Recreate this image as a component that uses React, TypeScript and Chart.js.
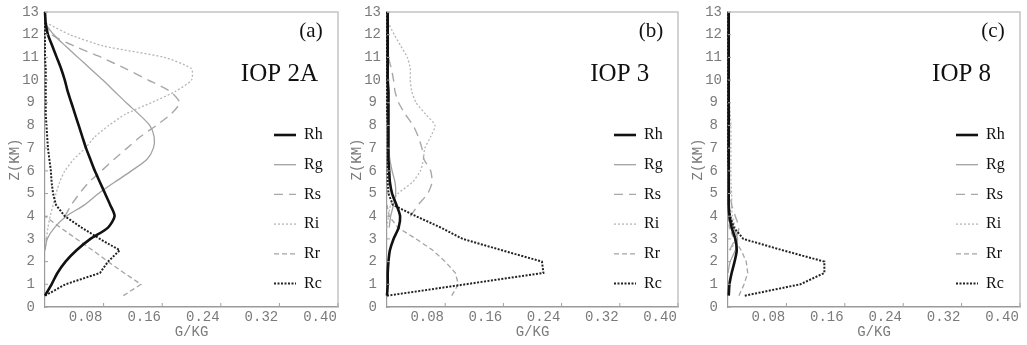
import React, { useEffect, useRef } from 'react';
import { Chart, registerables } from 'chart.js';
Chart.register(...registerables);

// Heights (km)
const Z = [0.5, 1, 1.5, 2, 2.5, 3, 3.5, 4, 4.5, 5, 5.5, 6, 6.5, 7, 7.5, 8, 8.5, 9, 9.5, 10, 10.5, 11, 11.5, 12, 12.5, 13];
const X_TICKS = [0, 0.08, 0.16, 0.24, 0.32, 0.4];
const Y_TICKS = [0, 1, 2, 3, 4, 5, 6, 7, 8, 9, 10, 11, 12, 13];
const SERIES_NAMES = ['Rh', 'Rg', 'Rs', 'Ri', 'Rr', 'Rc'];
const PANEL_LABELS = ['(a)', '(b)', '(c)'];
const PANEL_TITLES = ['IOP 2A', 'IOP 3', 'IOP 8'];
const X_TITLE = 'G/KG';
const Y_TITLE = 'Z(KM)';

// Panel (a) IOP 2A
const rhA = [0, 0.009, 0.017, 0.028, 0.043, 0.062, 0.086, 0.095, 0.089, 0.082, 0.075, 0.068, 0.062, 0.056, 0.051, 0.046, 0.041, 0.036, 0.031, 0.027, 0.022, 0.016, 0.010, 0.004, 0.001, 0];
const rgA = [null, null, null, null, 0, 0.003, 0.013, 0.029, 0.054, 0.073, 0.095, 0.118, 0.139, 0.148, 0.149, 0.143, 0.128, 0.111, 0.095, 0.079, 0.062, 0.045, 0.028, 0.012, 0, null];
const rsA = [null, null, null, null, null, null, null, 0.027, 0.036, 0.047, 0.060, 0.077, 0.094, 0.112, 0.130, 0.152, 0.172, 0.184, 0.171, 0.141, 0.110, 0.077, 0.040, 0.009, 0, null];
const riA = [null, null, null, null, 0, 0.002, 0.004, 0.007, 0.011, 0.015, 0.020, 0.027, 0.039, 0.055, 0.068, 0.087, 0.110, 0.145, 0.178, 0.200, 0.200, 0.163, 0.080, 0.034, 0.003, null];
const rrA = [0.107, 0.131, 0.108, 0.086, 0.065, 0.043, 0.021, 0, null, null, null, null, null, null, null, null, null, null, null, null, null, null, null, null, null, null];
const rcA = [0, 0.028, 0.075, 0.086, 0.102, 0.075, 0.050, 0.027, 0.015, 0.011, 0.009, 0.008, 0.006, 0.004, 0.003, 0.002, 0.001, 0.001, 0.001, 0.001, 0.001, 0, 0, 0, 0, 0];

// Panel (b) IOP 3
const rhB = [0, 0.001, 0.001, 0.002, 0.004, 0.009, 0.016, 0.018, 0.013, 0.007, 0.004, 0.003, 0.002, 0.002, 0.002, 0.002, 0.002, 0.002, 0.002, 0.001, 0.001, 0.001, 0.001, 0.001, 0.001, 0.001];
const rgB = [null, null, null, null, null, null, 0.003, 0.005, 0.009, 0.012, 0.011, 0.007, 0.004, 0.002, 0.001, 0.001, 0.001, 0.001, 0, 0, 0, 0, 0, 0, 0, null];
const rsB = [null, null, null, null, null, null, null, 0.032, 0.043, 0.056, 0.062, 0.060, 0.051, 0.048, 0.043, 0.036, 0.025, 0.016, 0.011, 0.009, 0.006, 0.002, 0, null, null, null];
const riB = [null, null, null, null, null, null, 0, 0.002, 0.005, 0.015, 0.035, 0.046, 0.050, 0.052, 0.060, 0.066, 0.053, 0.040, 0.034, 0.032, 0.032, 0.028, 0.019, 0.010, 0.002, null];
const rrB = [0.089, 0.098, 0.094, 0.080, 0.063, 0.040, 0.015, 0.003, 0, null, null, null, null, null, null, null, null, null, null, null, null, null, null, null, null, null];
const rcB = [0, 0.108, 0.215, 0.213, 0.158, 0.104, 0.074, 0.040, 0.008, 0.002, 0.001, 0.001, 0.001, 0.001, 0.001, 0.001, 0, 0, 0, 0, 0, 0, 0, 0, 0, 0];

// Panel (c) IOP 8
const rhC = [0.001, 0.002, 0.005, 0.009, 0.012, 0.010, 0.005, 0.002, 0.001, 0.001, 0.001, 0.001, 0.001, 0.001, 0.001, 0.001, 0.001, 0.001, 0.001, 0.001, 0.001, 0.001, 0.001, 0.001, 0.001, 0.001];
const rgC = [null, null, 0, 0.003, 0.010, 0.013, 0.008, 0.003, 0.001, 0, null, null, null, null, null, null, null, null, null, null, null, null, null, null, null, null];
const rsC = [null, null, null, null, 0.002, 0.010, 0.015, 0.010, 0.005, 0.003, 0.001, 0, null, null, null, null, null, null, null, null, null, null, null, null, null, null];
const riC = [null, null, null, null, 0.003, 0.012, 0.010, 0.006, 0.005, 0.005, 0.004, 0.004, 0.004, 0.004, 0.004, 0.004, 0.003, 0.002, 0, null, null, null, null, null, null, null];
const rrC = [0.015, 0.022, 0.027, 0.025, 0.018, 0.008, 0.002, 0, null, null, null, null, null, null, null, null, null, null, null, null, null, null, null, null, null, null];
const rcC = [0.023, 0.099, 0.132, 0.132, 0.075, 0.021, 0.008, 0.003, 0.001, 0.001, 0.001, 0.001, 0, 0, 0, 0, 0, 0, 0, 0, 0, 0, 0, 0, 0, 0];

const PANEL_SERIES = [
  { Rh: rhA, Rg: rgA, Rs: rsA, Ri: riA, Rr: rrA, Rc: rcA },
  { Rh: rhB, Rg: rgB, Rs: rsB, Ri: riB, Rr: rrB, Rc: rcB },
  { Rh: rhC, Rg: rgC, Rs: rsC, Ri: riC, Rr: rrC, Rc: rcC },
];

const STYLES: Record<string, { color: string; width: number; dash: number[]; tension: number }> = {
  Rh: { color: '#111111', width: 2.6, dash: [], tension: 0.25 },
  Rg: { color: '#a2a2a2', width: 1.3, dash: [], tension: 0.25 },
  Rs: { color: '#a8a8a8', width: 1.4, dash: [9, 6], tension: 0.2 },
  Ri: { color: '#b6b6b6', width: 1.3, dash: [2, 2], tension: 0.2 },
  Rr: { color: '#a4a4a4', width: 1.3, dash: [5, 3], tension: 0 },
  Rc: { color: '#222222', width: 2.0, dash: [2, 1.5], tension: 0 },
};
const DRAW_ORDER = ['Rh', 'Rc', 'Rg', 'Rs', 'Ri', 'Rr'];

const TICK_FONT = { family: '"Liberation Mono", monospace', size: 14 };
const TICK_COLOR = '#7a7a7a';

function Panel({ idx, left, width }: { idx: number; left: number; width: number }) {
  const ref = useRef<HTMLCanvasElement>(null);
  useEffect(() => {
    const series = PANEL_SERIES[idx] as Record<string, (number | null)[]>;
    const datasets = DRAW_ORDER.map((name) => {
      const st = STYLES[name];
      const pts = Z.map((z, i) => (series[name][i] == null ? null : { x: series[name][i] as number, y: z })).filter(
        (p) => p !== null
      );
      return {
        label: name,
        data: pts,
        showLine: true,
        borderColor: st.color,
        backgroundColor: st.color,
        borderWidth: st.width,
        borderDash: st.dash,
        tension: st.tension,
        pointRadius: 0,
        fill: false,
        clip: false as any,
      };
    });

    const decor = {
      id: 'decor' + idx,
      afterDraw(chart: any) {
        const { ctx, chartArea: a, scales } = chart;
        ctx.save();
        // frame top/right
        ctx.strokeStyle = '#c4c4c4';
        ctx.lineWidth = 1.5;
        ctx.setLineDash([]);
        ctx.beginPath();
        ctx.moveTo(a.left, a.top);
        ctx.lineTo(a.right, a.top);
        ctx.lineTo(a.right, a.bottom);
        ctx.stroke();
        // inner tick marks
        ctx.strokeStyle = '#a0a0a0';
        ctx.lineWidth = 1;
        X_TICKS.forEach((v) => {
          if (v === 0) return;
          const px = scales.x.getPixelForValue(v);
          ctx.beginPath();
          ctx.moveTo(px, a.bottom);
          ctx.lineTo(px, a.bottom - 4);
          ctx.stroke();
        });
        Y_TICKS.forEach((v) => {
          const py = scales.y.getPixelForValue(v);
          ctx.beginPath();
          ctx.moveTo(a.left, py);
          ctx.lineTo(a.left + 3, py);
          ctx.stroke();
        });
        // panel label and title
        ctx.fillStyle = '#111';
        ctx.textAlign = 'center';
        ctx.textBaseline = 'middle';
        ctx.font = '21px "Liberation Serif", serif';
        ctx.fillText(PANEL_LABELS[idx], a.right - 27, a.top + 19);
        ctx.font = '25px "Liberation Serif", serif';
        ctx.fillText(PANEL_TITLES[idx], a.left + (a.right - a.left) * 0.8, a.top + 62);
        // legend
        SERIES_NAMES.forEach((name, i) => {
          const st = STYLES[name];
          const y = a.top + 123 + i * 29.7;
          ctx.strokeStyle = st.color;
          ctx.lineWidth = st.width;
          ctx.setLineDash(st.dash);
          ctx.beginPath();
          ctx.moveTo(a.right - 64, y);
          ctx.lineTo(a.right - 42, y);
          ctx.stroke();
          ctx.setLineDash([]);
          ctx.fillStyle = '#111';
          ctx.textAlign = 'left';
          ctx.font = '16px "Liberation Serif", serif';
          ctx.fillText(name, a.right - 34, y);
        });
        ctx.restore();
      },
    };

    const chart = new Chart(ref.current as HTMLCanvasElement, {
      type: 'scatter',
      data: { datasets: datasets as any },
      options: {
        responsive: false,
        animation: false,
        devicePixelRatio: 1,
        layout: { padding: { top: 12, right: 2, left: 0, bottom: 0 } },
        plugins: { legend: { display: false }, tooltip: { enabled: false } },
        scales: {
          x: {
            type: 'linear',
            min: 0,
            max: 0.4,
            afterBuildTicks: (s: any) => {
              s.ticks = X_TICKS.map((v) => ({ value: v }));
            },
            afterFit: (s: any) => {
              s.height = 38;
              s.paddingLeft = 0;
              s.paddingRight = 0;
            },
            grid: { display: true, drawOnChartArea: false, drawTicks: false },
            border: { display: true, color: '#9a9a9a', width: 1.5 },
            ticks: {
              font: TICK_FONT,
              color: TICK_COLOR,
              padding: 2,
              labelOffset: -18,
              maxRotation: 0,
              autoSkip: false,
              callback: (v: any) => (Number(v) === 0 ? '' : Number(v).toFixed(2)),
            },
            title: {
              display: true,
              text: X_TITLE,
              font: TICK_FONT,
              color: TICK_COLOR,
              padding: { top: 0, bottom: 4 },
            },
          },
          y: {
            type: 'linear',
            min: 0,
            max: 13,
            afterBuildTicks: (s: any) => {
              s.ticks = Y_TICKS.map((v) => ({ value: v }));
            },
            afterFit: (s: any) => {
              s.width = 45;
              s.paddingTop = 0;
              s.paddingBottom = 0;
            },
            grid: { display: true, drawOnChartArea: false, drawTicks: false },
            border: { display: true, color: '#9a9a9a', width: 1.2 },
            ticks: {
              font: TICK_FONT,
              color: TICK_COLOR,
              padding: 6,
              crossAlign: 'center',
              autoSkip: false,
              callback: (v: any) => String(v),
            },
            title: {
              display: true,
              text: Y_TITLE,
              font: TICK_FONT,
              color: TICK_COLOR,
              padding: { top: 7, bottom: 0 },
            },
          },
        },
      } as any,
      plugins: [decor],
    });
    return () => chart.destroy();
  }, [idx]);
  return (
    <canvas
      ref={ref}
      width={width}
      height={345}
      style={{ position: 'absolute', left, top: 0, width, height: 345 }}
    />
  );
}

export default function App() {
  return (
    <div style={{ position: 'fixed', left: 0, top: 0, width: 1027, height: 345, background: '#ffffff', overflow: 'hidden' }}>
      <Panel idx={0} left={0} width={340} />
      <Panel idx={1} left={342} width={338} />
      <Panel idx={2} left={683} width={339} />
    </div>
  );
}
